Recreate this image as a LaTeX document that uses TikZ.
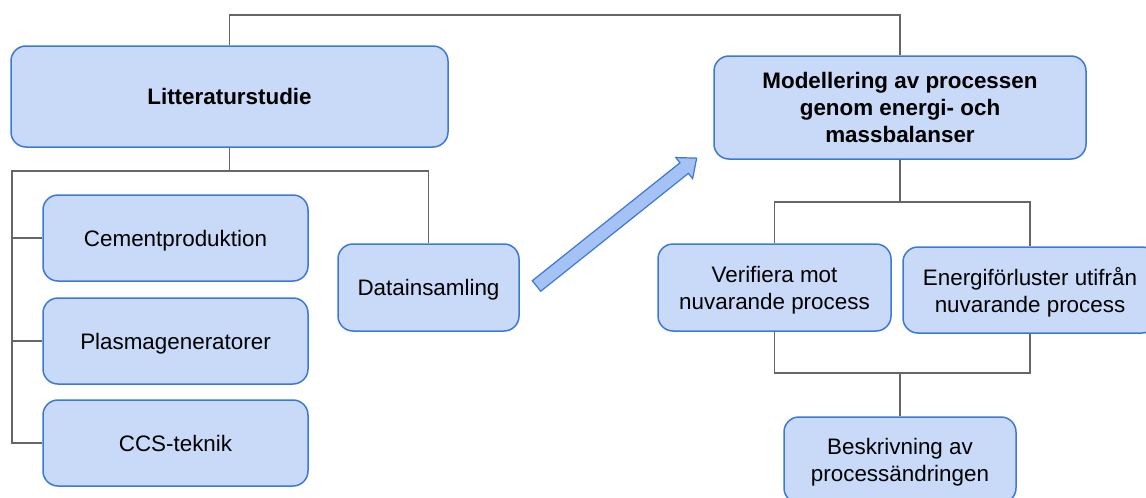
\documentclass[tikz,border=0pt]{standalone}
\usepackage{fontspec}
\setmainfont{Liberation Sans}
\usepackage{tikz}
\usetikzlibrary{positioning}
\definecolor{boxfill}{HTML}{C9DAF8}
\definecolor{boxline}{HTML}{3C78D8}
\definecolor{arrowfill}{HTML}{A4C2F4}
\definecolor{linkgray}{HTML}{666666}
\tikzstyle{box}=[draw=boxline, fill=boxfill, line width=0.75pt, rounded corners=7.5pt, align=center, inner sep=0pt, text depth=0pt, font=\fontsize{11.2}{13.4}\selectfont]
\tikzstyle{link}=[draw=linkgray, line width=0.65pt]
\tikzstyle{bigarrow}=[draw=boxline, fill=arrowfill, line width=0.6pt, line join=miter]

\begin{document}
\begin{tikzpicture}[x=0.5pt, y=-0.5pt]
    \useasboundingbox (0,0) rectangle (1146,498);

    % left part
    \node[box, minimum width=218.5pt, minimum height=50.5pt, font=\fontsize{11.2}{13.4}\selectfont\bfseries] (lit) at (229.5,96.5) {Litteraturstudie};
    \node[box, minimum width=132.5pt, minimum height=43pt] (cem) at (175.5,238) {Cementproduktion};
    \node[box, minimum width=132.5pt, minimum height=43pt] (plasma) at (175.5,341) {Plasmageneratorer};
    \node[box, minimum width=132.5pt, minimum height=43pt] (ccs) at (175.5,443) {CCS-teknik};
    \node[box, minimum width=90.5pt, minimum height=43.5pt] (data) at (428.5,287.5) {Datainsamling};

    % right part
    \node[box, minimum width=186pt, minimum height=51.5pt, font=\fontsize{11.2}{13.4}\selectfont\bfseries] (model) at (900,107.5) {Modellering av processen\\genom energi- och\\massbalanser};
    \node[box, minimum width=116.5pt, minimum height=43.5pt] (verif) at (774.5,287.5) {Verifiera mot\\nuvarande process};
    \node[box, minimum width=127pt, minimum height=43pt] (energi) at (1030,290) {Energiförluster utifrån\\nuvarande process};
    \node[box, minimum width=116pt, minimum height=43pt] (beskr) at (900,460) {Beskrivning av\\processändringen};

    \coordinate (top) at (565,15);
    \coordinate (litbus) at (229.5,171);
    \coordinate (lbranch) at (12,171);
    \coordinate (mbus) at (900,202);
    \coordinate (bbus) at (900,373);

    \path[link]
    (lit.north) |- (top) -| (model.north)
    (lit.south) -- (litbus) -| (data.north)
    (litbus) -- (lbranch) |- (ccs.west)
    (lbranch) |- (cem.west)
    (lbranch) |- (plasma.west)

    (model.south) -- (mbus)
    (mbus) -| (verif.north)
    (mbus) -| (energi.north)
    (verif.south) |- (bbus)
    (energi.south) |- (bbus)
    (bbus) -- (beskr.north)
    ;

    % arrow from data to model
    \begin{scope}[shift={(536.5,286)}, rotate=38.6]
        \path[bigarrow] (0,-6.75) -- (189,-6.75) -- (189,-13.5) -- (205,0)
            -- (189,13.5) -- (189,6.75) -- (0,6.75) -- cycle;
    \end{scope}
\end{tikzpicture}
\end{document}
